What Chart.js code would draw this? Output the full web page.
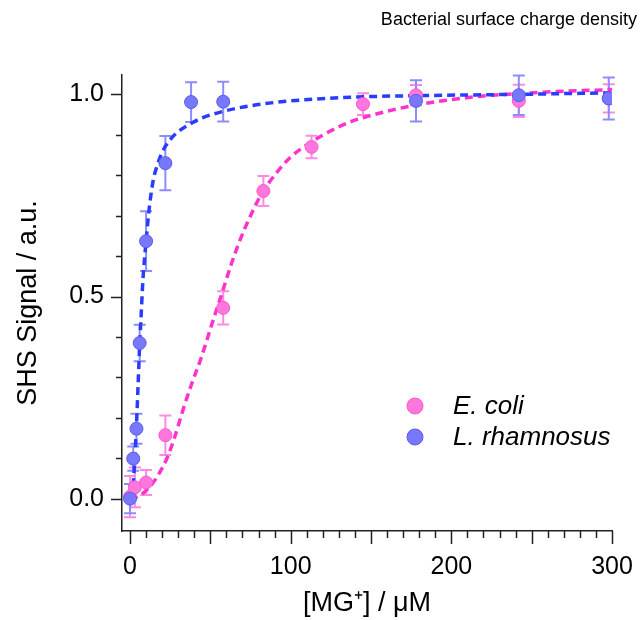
<!DOCTYPE html>
<html>
<head>
<meta charset="utf-8">
<script src="https://cdn.jsdelivr.net/npm/chart.js@4/dist/chart.umd.min.js"></script>
<style>
  html, body { margin: 0; padding: 0; background: #fff; }
  #wrap { width: 643px; height: 620px; }
</style>
</head>
<body>
<div id="wrap"><canvas id="chart" width="643" height="620"></canvas></div>
<script>
/* ---------------- data ---------------- */
const seriesNames = ["E. coli", "L. rhamnosus"];

// E. coli measurements
const ecoliX   = [0, 3, 10, 22, 58, 83, 113, 145, 178, 242, 298];
const ecoliY   = [0.005, 0.028, 0.04, 0.157, 0.472, 0.761, 0.87, 0.976, 0.998, 0.984, 0.99];
const ecoliErr = [0.051, 0.049, 0.031, 0.049, 0.041, 0.037, 0.028, 0.027, 0.025, 0.04, 0.035];

// L. rhamnosus measurements
const rhamX   = [0, 2, 4, 6, 10, 22, 38, 58, 178, 242, 298];
const rhamY   = [0.0, 0.099, 0.173, 0.385, 0.637, 0.83, 0.981, 0.982, 0.984, 0.998, 0.99];
const rhamErr = [0.036, 0.03, 0.037, 0.045, 0.074, 0.067, 0.049, 0.049, 0.051, 0.049, 0.052];

// fitted curves
const ecoliFitX = [0, 5, 12, 17, 23, 28, 33, 38, 44, 52, 56, 58, 63, 68, 75, 82, 92, 100, 112, 125, 137, 150, 165, 180, 200, 220, 260, 300];
const ecoliFitY = [0, 0.005, 0.028, 0.055, 0.1, 0.155, 0.22, 0.28, 0.345, 0.445, 0.493, 0.518, 0.58, 0.635, 0.7, 0.755, 0.81, 0.845, 0.88, 0.91, 0.932, 0.948, 0.963, 0.975, 0.987, 0.996, 1.006, 1.012];

const rhamFitX = [0, 2, 4, 5, 6, 7, 8, 10, 12, 14.5, 17, 20, 25, 30, 37, 45, 58, 75, 100, 137, 180, 240, 300];
const rhamFitY = [0, 0.04, 0.18, 0.28, 0.38, 0.46, 0.54, 0.637, 0.72, 0.789, 0.825, 0.857, 0.888, 0.908, 0.926, 0.942, 0.958, 0.972, 0.984, 0.993, 0.997, 1.0, 1.004];

// axis ticks
const xTickLabels = [0, 100, 200, 300];
const yTickLabels = [0, 0.5, 1.0];

/* ---------------- styles ---------------- */
const FONT = "'Liberation Sans', Arial, Helvetica, sans-serif";
const pinkDot  = "#ff77dd", pinkEdge = "#ff55cc", pinkBar = "#ff8ae0", pinkLine = "#ff33cc";
const blueDot  = "#7878ff", blueEdge = "#5a5af0", blueBar = "#8c8cff", blueLine = "#2a3cff";

const pts = (xs, ys) => xs.map((x, i) => ({ x: x, y: ys[i] }));

/* ---------------- plugins ---------------- */
// error bars behind the markers
const errorBars = {
  id: "errorBars",
  beforeDatasetsDraw(chart) {
    const { ctx, scales: { x, y } } = chart;
    const sets = [[ecoliX, ecoliY, ecoliErr, pinkBar], [rhamX, rhamY, rhamErr, blueBar]];
    ctx.save();
    ctx.lineWidth = 2;
    sets.forEach(([xs, ys, es, col]) => {
      ctx.strokeStyle = col;
      xs.forEach((v, i) => {
        const px = x.getPixelForValue(v);
        const top = y.getPixelForValue(ys[i] + es[i]);
        const bot = y.getPixelForValue(ys[i] - es[i]);
        ctx.beginPath();
        ctx.moveTo(px, top); ctx.lineTo(px, bot);
        ctx.moveTo(px - 6, top); ctx.lineTo(px + 6, top);
        ctx.moveTo(px - 6, bot); ctx.lineTo(px + 6, bot);
        ctx.stroke();
      });
    });
    ctx.restore();
  }
};

// major / minor tick marks outside the axes
const tickMarks = {
  id: "tickMarks",
  afterDraw(chart) {
    const { ctx, chartArea: a, scales: { x, y } } = chart;
    ctx.save();
    ctx.strokeStyle = "#222";
    ctx.lineWidth = 1.5;
    ctx.beginPath();
    for (let v = 0; v <= 300; v += 10) {
      const px = Math.round(x.getPixelForValue(v)) + 0.5;
      const len = v % 50 === 0 ? 13 : 7;
      ctx.moveTo(px, a.bottom); ctx.lineTo(px, a.bottom + len);
    }
    for (let k = 0; k <= 10; k++) {
      const py = Math.round(y.getPixelForValue(k / 10)) + 0.5;
      const len = k % 5 === 0 ? 11 : 6;
      ctx.moveTo(a.left, py); ctx.lineTo(a.left - len, py);
    }
    ctx.stroke();
    ctx.restore();
  }
};

// title at top right + legend inside the plot
const annotations = {
  id: "annotations",
  afterDraw(chart) {
    const { ctx } = chart;
    ctx.save();
    ctx.fillStyle = "#000";
    ctx.font = "18px " + FONT;
    ctx.textAlign = "right";
    ctx.textBaseline = "middle";
    ctx.fillText("Bacterial surface charge density", 637, 20);

    const rows = [[pinkDot, pinkEdge], [blueDot, blueEdge]];
    ctx.font = "italic 26px " + FONT;
    ctx.textAlign = "left";
    rows.forEach(([fill, edge], i) => {
      const cy = 406 + i * 31;
      ctx.beginPath();
      ctx.arc(415, cy, 8, 0, Math.PI * 2);
      ctx.fillStyle = fill; ctx.fill();
      ctx.strokeStyle = edge; ctx.lineWidth = 1; ctx.stroke();
      ctx.fillStyle = "#000";
      ctx.fillText(seriesNames[i], 453, cy + 1);
    });
    ctx.restore();
  }
};

// keep the plot box where the figure has it (no label overflow padding)
const noPad = s => { s.paddingLeft = 0; s.paddingRight = 0; s.paddingTop = 0; s.paddingBottom = 0; };

/* ---------------- chart ---------------- */
new Chart(document.getElementById("chart"), {
  type: "scatter",
  data: {
    datasets: [
      { label: seriesNames[1], data: pts(rhamX, rhamY), order: 1,
        backgroundColor: blueDot, borderColor: blueEdge, borderWidth: 1, pointRadius: 6.5 },
      { label: seriesNames[0], data: pts(ecoliX, ecoliY), order: 2,
        backgroundColor: pinkDot, borderColor: pinkEdge, borderWidth: 1, pointRadius: 6.5 },
      { label: "fit L. rhamnosus", data: pts(rhamFitX, rhamFitY), order: 3, showLine: true,
        borderColor: blueLine, borderWidth: 3.5, borderDash: [8, 5], pointRadius: 0,
        cubicInterpolationMode: "monotone", fill: false },
      { label: "fit E. coli", data: pts(ecoliFitX, ecoliFitY), order: 4, showLine: true,
        borderColor: pinkLine, borderWidth: 3.5, borderDash: [8, 5], pointRadius: 0,
        cubicInterpolationMode: "monotone", fill: false }
    ]
  },
  options: {
    responsive: false,
    animation: false,
    devicePixelRatio: 1,
    layout: { padding: { top: 75, right: 31, left: 2, bottom: 0 } },
    plugins: { legend: { display: false }, tooltip: { enabled: false } },
    scales: {
      x: {
        type: "linear", min: -5, max: 300,
        afterBuildTicks: s => { s.ticks = xTickLabels.map(v => ({ value: v })); },
        afterFit: s => { s.height = 89; noPad(s); },
        grid: { display: false, drawTicks: false },
        border: { display: true, color: "#222", width: 1.5 },
        ticks: { color: "#000", font: { family: FONT, size: 25 }, padding: 21, maxRotation: 0,
                 callback: v => String(v) },
        title: { display: true, text: "[MG\u207A] / \u03BCM", color: "#000",
                 font: { family: FONT, size: 27 }, padding: { top: 0, bottom: 0 } }
      },
      y: {
        type: "linear", min: -0.08, max: 1.048,
        afterBuildTicks: s => { s.ticks = yTickLabels.map(v => ({ value: v })); },
        afterFit: s => { s.width = 120; noPad(s); },
        grid: { display: false, drawTicks: false },
        border: { display: true, color: "#222", width: 1.5 },
        ticks: { color: "#000", font: { family: FONT, size: 25 }, padding: 18,
                 callback: v => Number(v).toFixed(1) },
        title: { display: true, text: "SHS Signal / a.u.", color: "#000",
                 font: { family: FONT, size: 27 }, padding: { top: 10, bottom: 0 } }
      }
    }
  },
  plugins: [errorBars, tickMarks, annotations]
});
</script>
</body>
</html>
